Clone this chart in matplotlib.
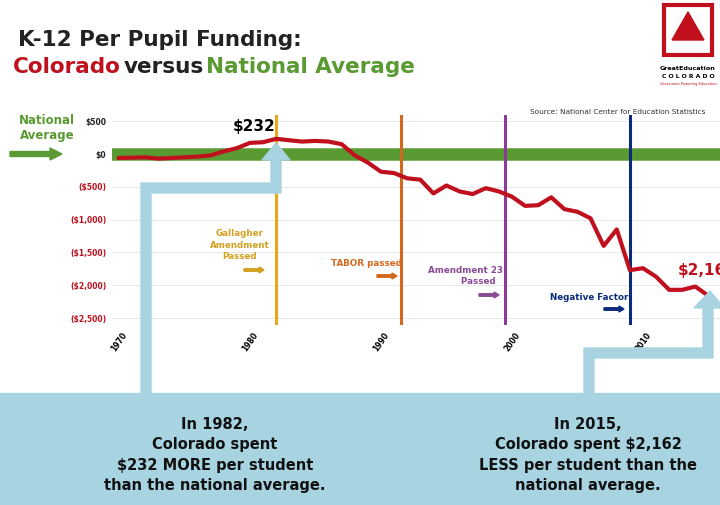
import matplotlib
matplotlib.use("Agg")
import matplotlib.pyplot as plt
from matplotlib.patches import Rectangle, Polygon, FancyArrow

years = list(range(1970, 2016))
diff = [-60, -55, -50, -70, -60, -50, -40, -20, 40, 90, 170, 180, 232, 210, 190,
        200, 190, 150, -20, -130, -270, -290, -370, -390, -600, -480, -570, -610,
        -520, -570, -650, -790, -780, -660, -840, -880, -980, -1400, -1150, -1770,
        -1740, -1870, -2070, -2070, -2020, -2162]
yticks = [500, 0, -500, -1000, -1500, -2000, -2500]
ylabels = ["$500", "$0", "($500)", "($1,000)", "($1,500)", "($2,000)", "($2,500)"]
xticks = [1970, 1980, 1990, 2000, 2010]
events = [(1982, "#e8a818"), (1991.5, "#d2691e"), (1999.5, "#8b3a96"), (2009, "#0b2a7a")]

RED = "#c0101e"; GREEN = "#5a9a32"; LBLUE = "#a8d4e2"
fig = plt.figure(figsize=(7.2, 5.05), dpi=100)
ax = fig.add_axes([112/720, (505-325)/505, 608/720, 210/505])
ax.set_xlim(1969.47, 2015.88)
ax.set_ylim(-2606, 595)
for s in ax.spines.values():
    s.set_visible(False)
ax.set_yticks(yticks)
ax.set_yticklabels(ylabels, fontsize=5.5, fontweight="bold")
for t, v in zip(ax.get_yticklabels(), yticks):
    t.set_color(RED if v < 0 else "#222222")
ax.set_xticks(xticks)
ax.set_xticklabels([str(x) for x in xticks], rotation=55, fontsize=5.5, fontweight="bold")
ax.tick_params(length=0, pad=4)
ax.grid(axis="y", color="#e4e4e4", lw=0.6)
ax.axhline(0, color=GREEN, lw=9, zorder=2)
for yr, c in events:
    ax.axvline(yr, color=c, lw=2.2, zorder=3)
ax.plot(years, diff, color=RED, lw=3, zorder=4)

o = fig.add_axes([0, 0, 1, 1], facecolor="none")
o.set_xlim(0, 720); o.set_ylim(505, 0); o.axis("off")
o.text(18, 40, "K-12 Per Pupil Funding:", fontsize=15.5, fontweight="bold", color="#222222", va="center")
o.text(13, 67, "Colorado", fontsize=15.5, fontweight="bold", color=RED, va="center")
o.text(124, 67, "versus", fontsize=15.5, fontweight="bold", color="#222222", va="center")
o.text(206, 67, "National Average", fontsize=15.5, fontweight="bold", color=GREEN, va="center")
o.text(47, 128, "National\nAverage", fontsize=8.5, fontweight="bold", color=GREEN, ha="center", va="center")
o.add_patch(FancyArrow(10, 154, 52, 0, width=5, head_width=12, head_length=12, color=GREEN, length_includes_head=True))
o.text(705, 112, "Source: National Center for Education Statistics", fontsize=5.3, ha="right", va="center", color="#333333")
o.text(254, 126, "$232", fontsize=11, fontweight="bold", ha="center", va="center")
o.text(678, 270, "$2,162", fontsize=11, fontweight="bold", color=RED, va="center")
o.text(240, 245, "Gallagher\nAmendment\nPassed", fontsize=6.3, fontweight="bold", color="#d4a020", ha="center", va="center", linespacing=1.3)
o.text(366, 263, "TABOR passed", fontsize=6.3, fontweight="bold", color="#d2691e", ha="center", va="center")
o.text(466, 276, "Amendment 23\n        Passed", fontsize=6.3, fontweight="bold", color="#8b4a96", ha="center", va="center", linespacing=1.3)
o.text(589, 297, "Negative Factor", fontsize=6.3, fontweight="bold", color="#0b2a7a", ha="center", va="center")
for x0, y0, c in [(244, 270, "#d4a020"), (377, 276, "#d2691e"), (479, 295, "#8b4a96"), (604, 309, "#0b2a7a")]:
    o.add_patch(FancyArrow(x0, y0, 20, 0, width=2.5, head_width=6, head_length=5, color=c, length_includes_head=True))
# connectors
o.add_patch(Polygon([(141, 395), (141, 183), (271, 183), (271, 160), (262, 160), (276, 143),
                     (290, 160), (281, 160), (281, 193), (151, 193), (151, 395)], closed=True, color=LBLUE, zorder=5))
o.add_patch(Polygon([(584, 395), (584, 348), (703, 348), (703, 308), (694, 308), (710, 291),
                     (720, 303), (720, 308), (713, 308), (713, 358), (594, 358), (594, 395)], closed=True, color=LBLUE, zorder=5))
o.add_patch(Rectangle((0, 393), 720, 112, color=LBLUE, zorder=5))
o.text(215, 455, "In 1982,\nColorado spent\n$232 MORE per student\nthan the national average.", fontsize=10.5,
       fontweight="bold", ha="center", va="center", linespacing=1.45, zorder=6, color="#111111")
o.text(588, 455, "In 2015,\nColorado spent $2,162\nLESS per student than the\nnational average.", fontsize=10.5,
       fontweight="bold", ha="center", va="center", linespacing=1.45, zorder=6, color="#111111")
# logo
o.add_patch(Rectangle((664, 5), 48, 50, facecolor="white", edgecolor=RED, lw=3))
o.add_patch(Polygon([(672, 40), (688, 12), (704, 40)], closed=True, color=RED))
o.text(688, 68, "GreatEducation", fontsize=4.6, fontweight="bold", ha="center", va="center")
o.text(688, 76, "C O L O R A D O", fontsize=4.4, fontweight="bold", ha="center", va="center")
o.text(688, 84, "Grassroots Powering Education", fontsize=2.6, color=RED, ha="center", va="center")
fig.savefig("out.png", dpi=100)
